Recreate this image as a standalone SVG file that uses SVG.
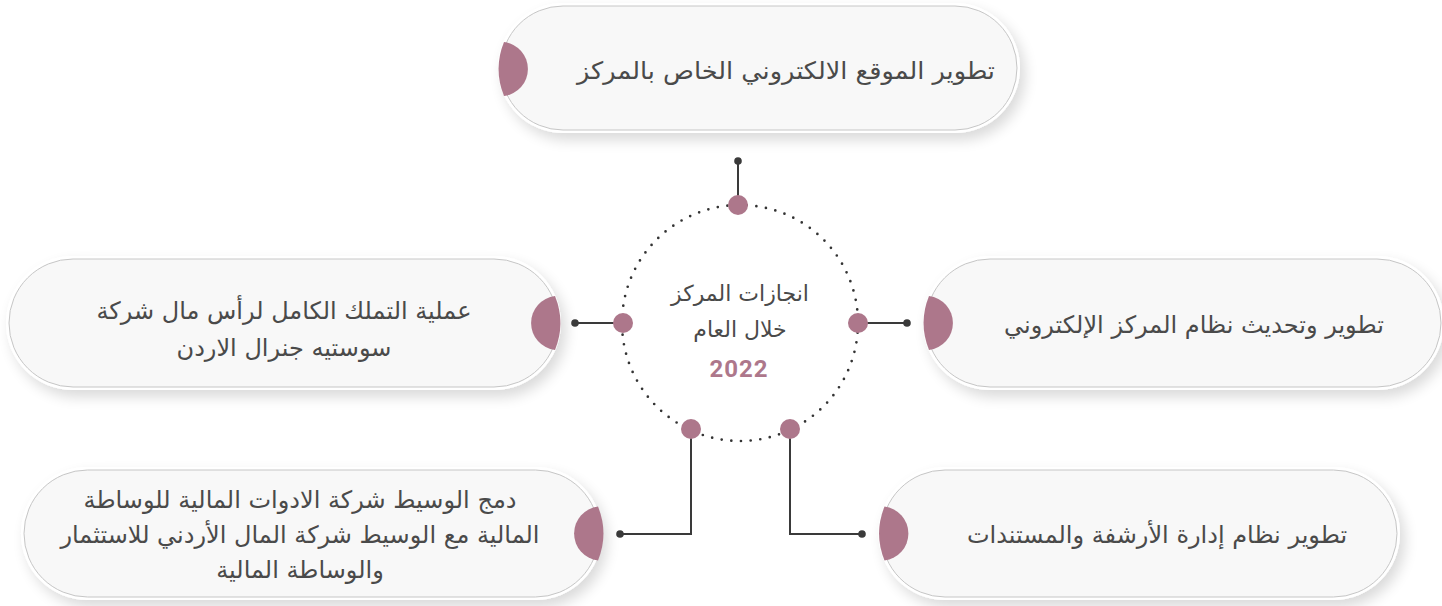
<svg xmlns="http://www.w3.org/2000/svg" xmlns:xlink="http://www.w3.org/1999/xlink" width="1442" height="606" viewBox="0 0 1442 606">
  <defs>
    <filter id="shadow" x="-10%" y="-30%" width="125%" height="170%">
      <feGaussianBlur in="SourceAlpha" stdDeviation="7"/>
      <feOffset dx="5" dy="7" result="b"/>
      <feComponentTransfer><feFuncA type="linear" slope="0.15"/></feComponentTransfer>
      <feMerge><feMergeNode/><feMergeNode in="SourceGraphic"/></feMerge>
    </filter>
    <path id="accent" d="M0,-27 A27.2 27.2 0 0 1 0,27 A72 72 0 0 1 0,-27 Z"/>
    <style>
      .outer { fill: #ffffff; filter: url(#shadow); }
      .pill { fill: #f8f8f8; stroke: #c6c6c6; stroke-width: 1; }
      .acc { fill: #ad778b; }
      .lbl { font-family: "DejaVu Sans", "Noto Sans", sans-serif; font-size: 24px; fill: #4a4a4a; text-anchor: middle; }
      .ctr { font-size: 22px; }
      .conn { fill: none; stroke: #3a3a3a; stroke-width: 2; }
      .dot { fill: #3a3a3a; }
      .pink { fill: #ad778b; }
      .ring { fill: none; stroke: #333333; stroke-width: 2.7; stroke-linecap: round; stroke-dasharray: 0 9.7; }
      .year { font-family: Roboto, "Liberation Sans", sans-serif; font-weight: 700; font-size: 24px; fill: #ad778b; text-anchor: middle; letter-spacing: 1px; }
    </style>
  </defs>
  <rect width="1442" height="606" fill="#ffffff"/>

  <g id="node-top">
    <rect class="outer" x="498" y="3" width="522" height="130" rx="65"/>
    <rect class="pill" x="501" y="6" width="516" height="124" rx="62"/>
    <use href="#accent" class="acc" x="504" y="69"/>
    <text class="lbl" x="786" y="79" textLength="418" lengthAdjust="spacingAndGlyphs">تطوير الموقع الالكتروني الخاص بالمركز</text>
  </g>

  <g id="node-left">
    <rect class="outer" x="6" y="256" width="555" height="134" rx="67"/>
    <rect class="pill" x="9" y="259" width="549" height="128" rx="64"/>
    <use href="#accent" class="acc" transform="translate(555,323) scale(-1,1)"/>
    <text class="lbl" x="284" y="319">عملية التملك الكامل لرأس مال شركة</text>
    <text class="lbl" x="284" y="356">سوستيه جنرال الاردن</text>
  </g>

  <g id="node-right">
    <rect class="outer" x="923" y="256" width="521" height="134" rx="67"/>
    <rect class="pill" x="926" y="259" width="515" height="128" rx="64"/>
    <use href="#accent" class="acc" x="929" y="323"/>
    <text class="lbl" x="1194" y="333">تطوير وتحديث نظام المركز الإلكتروني</text>
  </g>

  <g id="node-bottom-left">
    <rect class="outer" x="21" y="467" width="581" height="133" rx="66.5"/>
    <rect class="pill" x="24" y="470" width="575" height="127" rx="63.5"/>
    <use href="#accent" class="acc" transform="translate(598,533.5) scale(-1,1)"/>
    <text class="lbl" x="300" y="508">دمج الوسيط شركة الادوات المالية للوساطة</text>
    <text class="lbl" x="300" y="543">المالية مع الوسيط شركة المال الأردني للاستثمار</text>
    <text class="lbl" x="300" y="578">والوساطة المالية</text>
  </g>

  <g id="node-bottom-right">
    <rect class="outer" x="878.5" y="467" width="521.5" height="133" rx="66.5"/>
    <rect class="pill" x="881.5" y="470" width="515.5" height="127" rx="63.5"/>
    <use href="#accent" class="acc" x="884.5" y="533.5"/>
    <text class="lbl" x="1157" y="543">تطوير نظام إدارة الأرشفة والمستندات</text>
  </g>

  <g id="connectors">
    <path class="conn" d="M738,161 V205"/>
    <path class="conn" d="M623,323 H575"/>
    <path class="conn" d="M858,323 H907"/>
    <path class="conn" d="M691,429 V534 H620"/>
    <path class="conn" d="M790,429 V534 H862"/>
    <circle class="dot" cx="738" cy="161" r="3.8"/>
    <circle class="dot" cx="575" cy="323" r="3.8"/>
    <circle class="dot" cx="907" cy="323" r="3.8"/>
    <circle class="dot" cx="620" cy="534" r="3.8"/>
    <circle class="dot" cx="862" cy="534" r="3.8"/>
  </g>

  <g id="center">
    <circle class="ring" cx="740" cy="323" r="118"/>
    <circle class="pink" cx="738" cy="205" r="10"/>
    <circle class="pink" cx="623" cy="323" r="10"/>
    <circle class="pink" cx="858" cy="323" r="10"/>
    <circle class="pink" cx="691" cy="429" r="10"/>
    <circle class="pink" cx="790" cy="429" r="10"/>
    <text class="lbl ctr" x="740" y="301">انجازات المركز</text>
    <text class="lbl ctr" x="740" y="337">خلال العام</text>
    <text class="year" x="739" y="377">2022</text>
  </g>
</svg>
